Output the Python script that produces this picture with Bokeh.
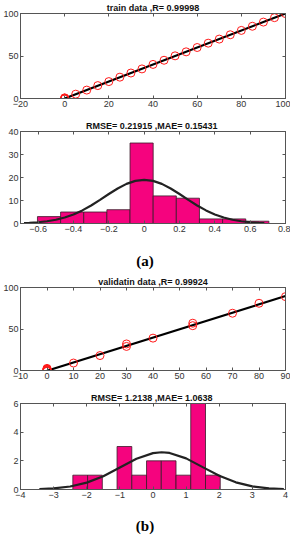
from bokeh.plotting import figure
from bokeh.layouts import column
from bokeh.models import FixedTicker, LinearAxis, Div, Range1d
from bokeh.embed import file_html
from bokeh.resources import INLINE

# ---------------- data ----------------
train_target = [0, 0, 0, 0, 0, 5, 10, 15, 20, 25, 30, 35, 40, 45, 50, 55, 60, 65, 70, 75, 80, 85, 90, 95, 100]
train_output = [0.4, -0.3, 0.1, 0.8, -0.6, 5.1, 9.9, 15.2, 19.9, 25.1, 30.0, 34.8, 40.1, 45.0, 50.2, 54.9, 60.0, 65.1, 69.9, 75.0, 80.1, 85.0, 89.9, 95.1, 99.9]
train_fit_x = [0, 100]
train_fit_y = [0, 100]

train_edges = [-0.604, -0.473, -0.342, -0.211, -0.080, 0.051, 0.182, 0.313, 0.444, 0.575, 0.706]
train_counts = [3, 5, 5, 6, 35, 12, 11, 2, 2, 1]
train_curve_x = [-0.68, -0.65, -0.6, -0.55, -0.5, -0.45, -0.4, -0.35, -0.3, -0.25, -0.2, -0.15, -0.1, -0.05, 0.0,
                 0.05, 0.1, 0.15, 0.2, 0.25, 0.3, 0.35, 0.4, 0.45, 0.5, 0.55, 0.6, 0.65, 0.68]
train_curve_y = [0.20, 0.30, 0.55, 0.97, 1.63, 2.59, 3.94, 5.70, 7.84, 10.28, 12.82, 15.23, 17.22, 18.54, 19.0,
                 18.54, 17.22, 15.23, 12.82, 10.28, 7.84, 5.70, 3.94, 2.59, 1.63, 0.97, 0.55, 0.30, 0.20]

valid_target = [0, 0, 0, 0, 0, 0, 0, 0, 10, 20, 30, 30, 40, 55, 55, 70, 80, 90]
valid_output = [0.5, 1.5, -0.5, 2.0, 1.0, 0.0, 2.5, -1.0, 9, 18, 29, 32, 39, 54, 57, 69, 81, 89]
valid_fit_x = [0, 90]
valid_fit_y = [-0.3, 89.7]

valid_edges = [-2.42, -1.975, -1.53, -1.085, -0.64, -0.195, 0.25, 0.695, 1.14, 1.585, 2.03]
valid_counts = [1, 1, 0, 3, 1, 2, 2, 1, 6, 1]
valid_curve_x = [-3.43, -3.0, -2.5, -2.0, -1.5, -1.0, -0.5, 0.0, 0.26, 0.5, 1.0, 1.5, 2.0, 2.5, 3.0, 3.5, 3.95]
valid_curve_y = [0.03, 0.08, 0.21, 0.48, 0.93, 1.54, 2.15, 2.54, 2.60, 2.55, 2.17, 1.56, 0.96, 0.50, 0.22, 0.08, 0.03]

titles = ["train data ,R= 0.99998", "RMSE= 0.21915  ,MAE= 0.15431",
          "validatin data ,R= 0.99924", "RMSE= 1.2138  ,MAE= 1.0638"]

FONT = "Liberation Sans"
AXC = "#555555"
LBL = "#333333"
BAR = "#F5037E"
W = 290


def make_fig(title, xr, yr, xticks, yticks, height, top, bottom, left, right=5):
    p = figure(width=W, height=height, output_backend="svg", toolbar_location=None,
               x_range=Range1d(*xr), y_range=Range1d(*yr),
               min_border_top=top, min_border_bottom=bottom, min_border_left=left,
               min_border_right=right)
    p.title.text = title
    p.title.align = "center"
    p.title.text_font = FONT
    p.title.text_font_size = "9px"
    p.title.text_font_style = "bold"
    p.title.text_color = "#111111"
    p.title.standoff = 1
    p.title.offset = 0
    p.grid.visible = False
    p.outline_line_color = AXC
    p.outline_line_width = 1
    for ax, tk in ((p.xaxis[0], xticks), (p.yaxis[0], yticks)):
        ax.ticker = FixedTicker(ticks=tk)
        ax.major_tick_in = 3
        ax.major_tick_out = 0
        ax.minor_tick_line_color = None
        ax.axis_line_color = AXC
        ax.major_tick_line_color = AXC
        ax.major_label_text_font = FONT
        ax.major_label_text_font_size = "9px"
        ax.major_label_text_color = LBL
        ax.major_label_standoff = 2
    # mirrored ticks on top and right (box on), without labels
    for side, tk in (("above", xticks), ("right", yticks)):
        a = LinearAxis(ticker=FixedTicker(ticks=tk), major_tick_in=3, major_tick_out=0,
                       minor_tick_line_color=None, axis_line_color=AXC,
                       major_tick_line_color=AXC, major_label_text_color=None,
                       major_label_text_font_size="1px", major_label_standoff=0)
        p.add_layout(a, side)
    return p


def label_div(txt, height, pad):
    return Div(text=f'<div style="width:{W}px;text-align:center;font-family:\'Liberation Serif\',serif;'
                    f'font-weight:bold;font-size:15px;line-height:16px;padding-top:{pad}px">{txt}</div>',
               width=W, height=height, margin=(0, 0, 0, 0))


# ---- (a) train regression ----
p1 = make_fig(titles[0], (-20, 100), (0, 100), [-20, 0, 20, 40, 60, 80, 100], [0, 50, 100],
              118, 10, 20, 10)
p1.line(train_fit_x, train_fit_y, line_color="black", line_width=2.2)
p1.scatter(train_target, train_output, marker="circle", size=8, fill_color=None,
           line_color="#FF1A1A", line_width=1)

# ---- (a) train error histogram ----
p2 = make_fig(titles[1], (-0.7, 0.8), (0, 40), [-0.6, -0.4, -0.2, 0, 0.2, 0.4, 0.6, 0.8],
              [0, 10, 20, 30, 40], 124, 13, 19, 10)
p2.quad(left=train_edges[:-1], right=train_edges[1:], bottom=0, top=train_counts,
        fill_color=BAR, line_color="#3a1a2a", line_width=0.8)
p2.line(train_curve_x, train_curve_y, line_color="#222222", line_width=2.2)

div_a = label_div("(a)", 32, 11)

# ---- (b) validation regression ----
p3 = make_fig(titles[2], (-10, 90), (0, 100), [-10, 0, 10, 20, 30, 40, 50, 60, 70, 80, 90],
              [0, 50, 100], 114, 13, 18, 18)
p3.line(valid_fit_x, valid_fit_y, line_color="black", line_width=2.2)
p3.scatter(valid_target, valid_output, marker="circle", size=8, fill_color=None,
           line_color="#FF1A1A", line_width=1)

# ---- (b) validation error histogram ----
p4 = make_fig(titles[3], (-4, 4), (0, 6), [-4, -3, -2, -1, 0, 1, 2, 3, 4], [0, 2, 4, 6],
              120, 15, 19, 18)
p4.quad(left=valid_edges[:-1], right=valid_edges[1:], bottom=0, top=valid_counts,
        fill_color=BAR, line_color="#3a1a2a", line_width=0.8)
p4.line(valid_curve_x, valid_curve_y, line_color="#222222", line_width=2.2)

div_b = label_div("(b)", 26, 10)

layout = column(p1, p2, div_a, p3, p4, div_b, spacing=0)
open("out.html", "w").write(file_html(layout, INLINE))
